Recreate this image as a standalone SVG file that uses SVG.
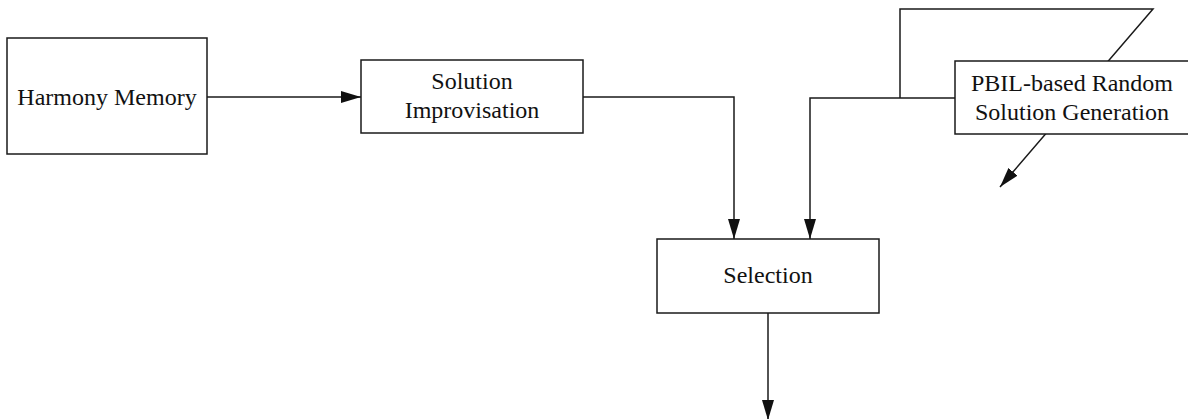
<svg xmlns="http://www.w3.org/2000/svg" width="1188" height="419" viewBox="0 0 1188 419">
<style>
.box{fill:#fff;stroke:#1a1a1a;stroke-width:1.5}
.lbl{font-family:"Liberation Serif","Times New Roman",serif;font-size:24px;fill:#111;text-anchor:middle}
.ln{fill:none;stroke:#1a1a1a;stroke-width:1.5}
</style>
<defs>
<marker id="ah" markerUnits="userSpaceOnUse" markerWidth="20" markerHeight="12" refX="20" refY="6" orient="auto" viewBox="0 0 20 12">
<path d="M0,0 L20,6 L0,12 z" fill="#111"/>
</marker>
</defs>
<rect width="1188" height="419" fill="#fff"/>
<g id="connectors">
<path class="ln" d="M207,97 H361" marker-end="url(#ah)"/>
<path class="ln" d="M583,97 H734 V239" marker-end="url(#ah)"/>
<path class="ln" d="M955,98 H810 V239" marker-end="url(#ah)"/>
<path class="ln" d="M900,98 V9 H1153 L1000,187" marker-end="url(#ah)"/>
<path class="ln" d="M768,313 V420" marker-end="url(#ah)"/>
</g>
<g id="harmony-memory">
<rect class="box" x="7" y="38" width="200" height="116"/>
<text class="lbl" x="107" y="105">Harmony Memory</text>
</g>
<g id="solution-improvisation">
<rect class="box" x="361" y="60" width="222" height="73"/>
<text class="lbl" x="472" y="89">Solution</text>
<text class="lbl" x="472" y="118">Improvisation</text>
</g>
<g id="pbil-generation">
<rect class="box" x="955" y="61" width="240" height="73"/>
<text class="lbl" x="1072" y="91">PBIL-based Random</text>
<text class="lbl" x="1072" y="120">Solution Generation</text>
</g>
<g id="selection">
<rect class="box" x="657" y="239" width="222" height="74"/>
<text class="lbl" x="768" y="283">Selection</text>
</g>
</svg>
